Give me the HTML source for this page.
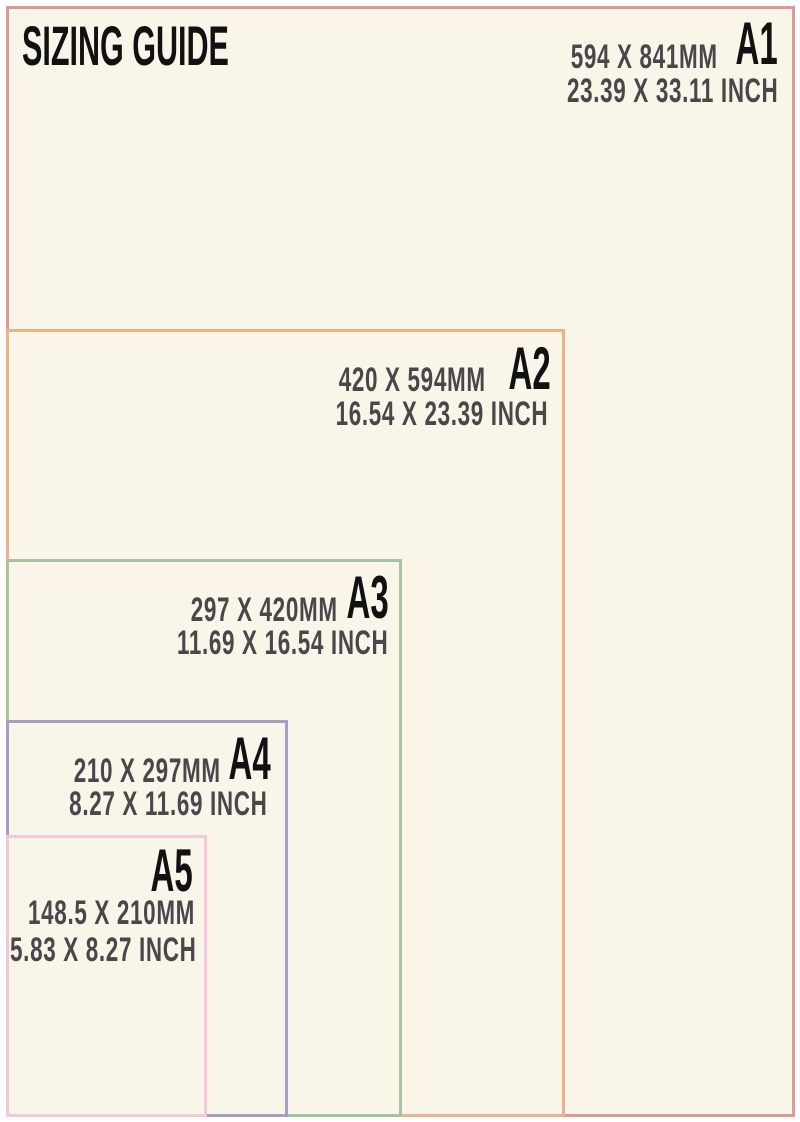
<!DOCTYPE html>
<html><head><style>
body{margin:0;width:800px;height:1122px;background:#fff;position:relative;overflow:hidden;font-family:"Liberation Sans Narrow","Liberation Sans",sans-serif;font-weight:bold}
.b{position:absolute;box-sizing:border-box;border:3px solid;background:#f9f5e9}
.t{position:absolute;white-space:nowrap;transform-origin:right top;transform:scaleX(0.66);text-align:right;color:#48484a;letter-spacing:1px}
.h{position:absolute;white-space:nowrap;transform-origin:right top;transform:scaleX(0.55);color:#111;font-size:60px;line-height:60px}
</style></head><body>
<div class="b" style="left:6px;top:6px;width:789px;height:1111px;border-color:#dc9a9a"></div>
<div class="b" style="left:6px;top:329px;width:559px;height:788px;border-color:#eab38e"></div>
<div class="b" style="left:6px;top:559px;width:396px;height:558px;border-color:#a8c49e"></div>
<div class="b" style="left:6px;top:720px;width:282px;height:397px;border-color:#a89dc2"></div>
<div class="b" style="left:6px;top:835px;width:201px;height:282px;border-color:#f6c6da"></div>

<div style="position:absolute;left:22px;top:18px;font-size:56px;line-height:56px;color:#111;transform-origin:left top;transform:scaleX(0.545);white-space:nowrap">SIZING GUIDE</div>

<div class="h" style="right:22px;top:14px">A1</div>
<div class="t" style="right:82px;top:38px;font-size:34px;line-height:38px">594 X 841MM</div>
<div class="t" style="right:22px;top:72px;font-size:34px;line-height:38px">23.39 X 33.11 INCH</div>

<div class="h" style="right:249px;top:339px">A2</div>
<div class="t" style="right:314px;top:361px;font-size:34px;line-height:38px">420 X 594MM</div>
<div class="t" style="right:252px;top:395px;font-size:34px;line-height:38px">16.54 X 23.39 INCH</div>

<div class="h" style="right:411px;top:568px">A3</div>
<div class="t" style="right:462px;top:591px;font-size:34px;line-height:38px">297 X 420MM</div>
<div class="t" style="right:412px;top:624px;font-size:34px;line-height:38px">11.69 X 16.54 INCH</div>

<div class="h" style="right:529px;top:729px">A4</div>
<div class="t" style="right:579px;top:752px;font-size:34px;line-height:38px">210 X 297MM</div>
<div class="t" style="right:532px;top:785px;font-size:34px;line-height:38px">8.27 X 11.69 INCH</div>

<div class="h" style="right:607px;top:841px">A5</div>
<div class="t" style="right:605px;top:894px;font-size:34px;line-height:38px">148.5 X 210MM</div>
<div class="t" style="right:604px;top:931px;font-size:34px;line-height:38px">5.83 X 8.27 INCH</div>
</body></html>
